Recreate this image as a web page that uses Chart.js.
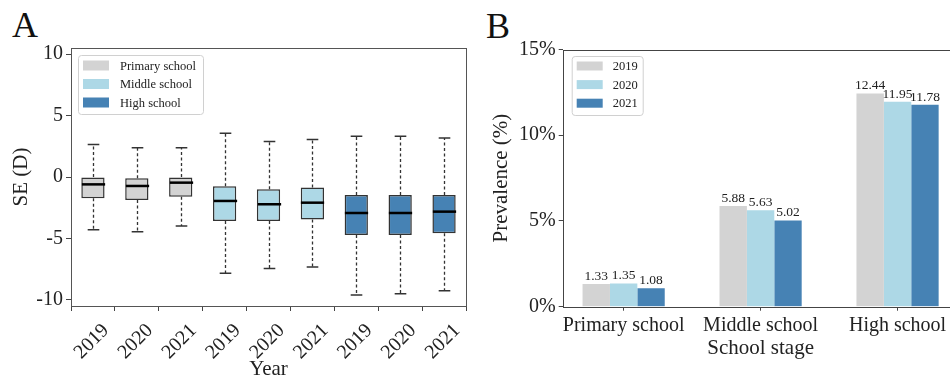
<!DOCTYPE html>
<html>
<head>
<meta charset="utf-8">
<script src="https://cdn.jsdelivr.net/npm/chart.js@4.4.1/dist/chart.umd.min.js"></script>
<style>
html, body { margin: 0; padding: 0; background: #fff; overflow: hidden; }
body { width: 950px; height: 382px; position: relative; }
#boxChart { position: absolute; left: 0; top: 0; }
#barChart { position: absolute; left: 480px; top: 0; }
.panel { position: absolute; font-family: "Liberation Serif"; font-size: 36px; line-height: 1; color: #111; }
</style>
</head>
<body>
<div class="panel" style="left:12px;top:7px">A</div>
<div class="panel" style="left:486px;top:8px">B</div>
<canvas id="boxChart" width="480" height="382"></canvas>
<canvas id="barChart" width="490" height="382"></canvas>
<script>
const boxChartEl = document.getElementById("boxChart");
const barChartEl = document.getElementById("barChart");

Chart.defaults.font.family = "Liberation Serif";
Chart.defaults.color = "#222";
Chart.defaults.animation = false;

// Panel A - SE (D) per year, grouped by school stage
const boxYears = ["2019", "2020", "2021", "2019", "2020", "2021", "2019", "2020", "2021"];
const boxStage = [0, 0, 0, 1, 1, 1, 2, 2, 2];
const stageNames = ["Primary school", "Middle school", "High school"];
const whiskerHigh = [2.64, 2.39, 2.39, 3.56, 2.88, 3.05, 3.31, 3.31, 3.18];
const q3 = [0.0, -0.1, 0.0, -0.76, -1.0, -0.86, -1.47, -1.47, -1.47];
const median = [-0.6, -0.73, -0.46, -1.95, -2.22, -2.09, -2.93, -2.93, -2.82];
const q1 = [-1.73, -1.87, -1.6, -3.58, -3.58, -3.45, -4.72, -4.72, -4.58];
const whiskerLow = [-4.3, -4.46, -3.99, -7.83, -7.45, -7.32, -9.6, -9.5, -9.26];
const seTicks = [-10, -5, 0, 5, 10];

// Panel B - prevalence per school stage
const barStages = ["Primary school", "Middle school", "High school"];
const barYears = ["2019", "2020", "2021"];
const prev2019 = [1.33, 5.88, 12.44];
const prev2020 = [1.35, 5.63, 11.95];
const prev2021 = [1.08, 5.02, 11.78];
const prevTicks = [0, 5, 10, 15];

const colors = ["#d3d3d3", "#add8e6", "#4682b4"];

function drawInnerLegend(ctx, area, names, opts) {
    let x = area.left + opts.dx;
    let y = area.top + opts.dy;
    ctx.save();
    ctx.fillStyle = "rgba(255,255,255,0.85)";
    ctx.strokeStyle = "#d0d0d0";
    ctx.lineWidth = 1;
    ctx.beginPath();
    ctx.roundRect(x + 0.5, y + 0.5, opts.w, opts.h, 3);
    ctx.fill();
    ctx.stroke();
    ctx.font = opts.fontSize + "px 'Liberation Serif'";
    ctx.textBaseline = "middle";
    ctx.textAlign = "left";
    for (let i = 0; i < names.length; i++) {
        let cy = y + opts.firstRow + i * opts.rowGap;
        ctx.fillStyle = colors[i];
        ctx.fillRect(x + opts.swX, cy - opts.swH / 2, opts.swW, opts.swH);
        ctx.fillStyle = "#222";
        ctx.fillText(names[i], x + opts.textX, cy + 1);
    }
    ctx.restore();
}

let boxPlugin = {
    id: "box_extras",
    afterDatasetsDraw: (chart) => {
        const ctx = chart.ctx;
        const xs = chart.scales.x;
        const ys = chart.scales.y;
        const bars = chart.getDatasetMeta(0).data;
        ctx.save();
        for (let i = 0; i < boxYears.length; i++) {
            let x = Math.round(xs.getPixelForValue(i)) + 0.5;
            let w = bars[i].width;
            let cap = w / 4;
            // dashed whiskers
            ctx.strokeStyle = "#333";
            ctx.lineWidth = 1.3;
            ctx.setLineDash([3, 2.5]);
            ctx.beginPath();
            ctx.moveTo(x, ys.getPixelForValue(q3[i]));
            ctx.lineTo(x, ys.getPixelForValue(whiskerHigh[i]));
            ctx.moveTo(x, ys.getPixelForValue(q1[i]));
            ctx.lineTo(x, ys.getPixelForValue(whiskerLow[i]));
            ctx.stroke();
            // caps
            ctx.setLineDash([]);
            ctx.lineWidth = 1.5;
            ctx.beginPath();
            let yh = ys.getPixelForValue(whiskerHigh[i]);
            let yl = ys.getPixelForValue(whiskerLow[i]);
            ctx.moveTo(x - cap, yh);
            ctx.lineTo(x + cap, yh);
            ctx.moveTo(x - cap, yl);
            ctx.lineTo(x + cap, yl);
            ctx.stroke();
            // median
            ctx.strokeStyle = "#000";
            ctx.lineWidth = 2.5;
            ctx.beginPath();
            let ym = ys.getPixelForValue(median[i]);
            ctx.moveTo(x - w / 2, ym);
            ctx.lineTo(x + w / 2, ym);
            ctx.stroke();
        }
        ctx.restore();
    },
    afterDraw: (chart) => {
        const ctx = chart.ctx;
        const a = chart.chartArea;
        ctx.save();
        ctx.strokeStyle = "#555";
        ctx.lineWidth = 1;
        ctx.strokeRect(Math.round(a.left) + 0.5, Math.round(a.top) + 0.5, Math.round(a.right - a.left), Math.round(a.bottom - a.top));
        ctx.restore();
        drawInnerLegend(ctx, a, stageNames, { dx: 7, dy: 7, w: 125, h: 59, fontSize: 12.5, firstRow: 10.5, rowGap: 18.5, swX: 5, swW: 26, swH: 10, textX: 42 });
    }
};

let barPlugin = {
    id: "bar_extras",
    afterDatasetsDraw: (chart) => {
        const ctx = chart.ctx;
        ctx.save();
        ctx.font = "13.5px 'Liberation Serif'";
        ctx.fillStyle = "#222";
        ctx.textAlign = "center";
        ctx.textBaseline = "bottom";
        chart.data.datasets.forEach((ds, k) => {
            chart.getDatasetMeta(k).data.forEach((el, i) => {
                ctx.fillText(ds.data[i].y.toFixed(2), el.x, el.y - 1);
            });
        });
        ctx.restore();
    },
    afterDraw: (chart) => {
        const ctx = chart.ctx;
        const a = chart.chartArea;
        ctx.save();
        ctx.strokeStyle = "#444";
        ctx.lineWidth = 1;
        ctx.strokeRect(Math.round(a.left) + 0.5, Math.round(a.top) + 0.5, Math.round(a.right - a.left), Math.round(a.bottom - a.top));
        ctx.restore();
        drawInnerLegend(ctx, a, barYears, { dx: 9, dy: 6.5, w: 71, h: 59, fontSize: 12.5, firstRow: 10, rowGap: 18.6, swX: 5, swW: 26, swH: 9, textX: 41 });
    }
};

var boxChart = new Chart(boxChartEl, {
    type: "bar",
    data: {
        labels: boxYears,
        datasets: [{
            data: boxYears.map((_, i) => [q1[i], q3[i]]),
            backgroundColor: boxStage.map(s => colors[s]),
            borderColor: "#333",
            borderWidth: 1.5,
            borderSkipped: false,
            barPercentage: 0.53,
            categoryPercentage: 1
        }]
    },
    options: {
        responsive: false,
        layout: { padding: { left: 9, right: 14, top: 48, bottom: 0 } },
        plugins: { legend: { display: false }, tooltip: { enabled: false } },
        scales: {
            x: {
                ticks: { font: { size: 20 }, minRotation: 45, maxRotation: 45, autoSkip: false, labelOffset: 13, padding: 8 },
                grid: { drawOnChartArea: false, tickLength: 5, color: "#444" },
                border: { display: false },
                title: { display: true, text: "Year", font: { size: 21 }, padding: { top: 0, bottom: 0 } },
                afterFit: (s) => { s.height = 76; }
            },
            y: {
                min: -10.5,
                max: 10.5,
                afterBuildTicks: (s) => { s.ticks = seTicks.map(v => ({ value: v })); },
                ticks: { font: { size: 20 }, padding: 3 },
                grid: { drawOnChartArea: false, tickLength: 5, color: "#444" },
                border: { display: false },
                title: { display: true, text: "SE (D)", font: { size: 21 }, padding: { top: 0, bottom: 0 } },
                afterFit: (s) => { s.width = 62; }
            }
        }
    },
    plugins: [boxPlugin]
});

var prevalence = [prev2019, prev2020, prev2021];

var barChart = new Chart(barChartEl, {
    type: "bar",
    data: {
        datasets: barYears.map((yr, k) => ({
            label: yr,
            data: prevalence[k].map((v, i) => ({ x: i, y: v })),
            backgroundColor: colors[k],
            borderWidth: 0,
            categoryPercentage: 0.6,
            barPercentage: 1
        }))
    },
    options: {
        responsive: false,
        layout: { padding: { left: 9, right: 11.5, top: 49.5, bottom: 0 } },
        plugins: { legend: { display: false }, tooltip: { enabled: false } },
        scales: {
            x: {
                type: "linear",
                min: -0.445,
                max: 2.445,
                offset: false,
                afterBuildTicks: (s) => { s.ticks = barStages.map((_, i) => ({ value: i })); },
                ticks: { font: { size: 20 }, maxRotation: 0, autoSkip: false, callback: (v) => barStages[v] },
                grid: { offset: false, drawOnChartArea: false, tickLength: 4, color: "#444" },
                border: { display: false },
                title: { display: true, text: "School stage", font: { size: 21 }, padding: { top: 0, bottom: 21 } },
                afterFit: (s) => { s.height = 75.3; }
            },
            y: {
                min: 0,
                max: 15,
                afterBuildTicks: (s) => { s.ticks = prevTicks.map(v => ({ value: v })); },
                ticks: { font: { size: 20 }, padding: 3, callback: (v) => v + "%" },
                grid: { drawOnChartArea: false, tickLength: 4, color: "#444" },
                border: { display: false },
                title: { display: true, text: "Prevalence (%)", font: { size: 21 }, padding: { top: 0, bottom: 0 } },
                afterFit: (s) => { s.width = 73.7; }
            }
        }
    },
    plugins: [barPlugin]
});
</script>
</body>
</html>
